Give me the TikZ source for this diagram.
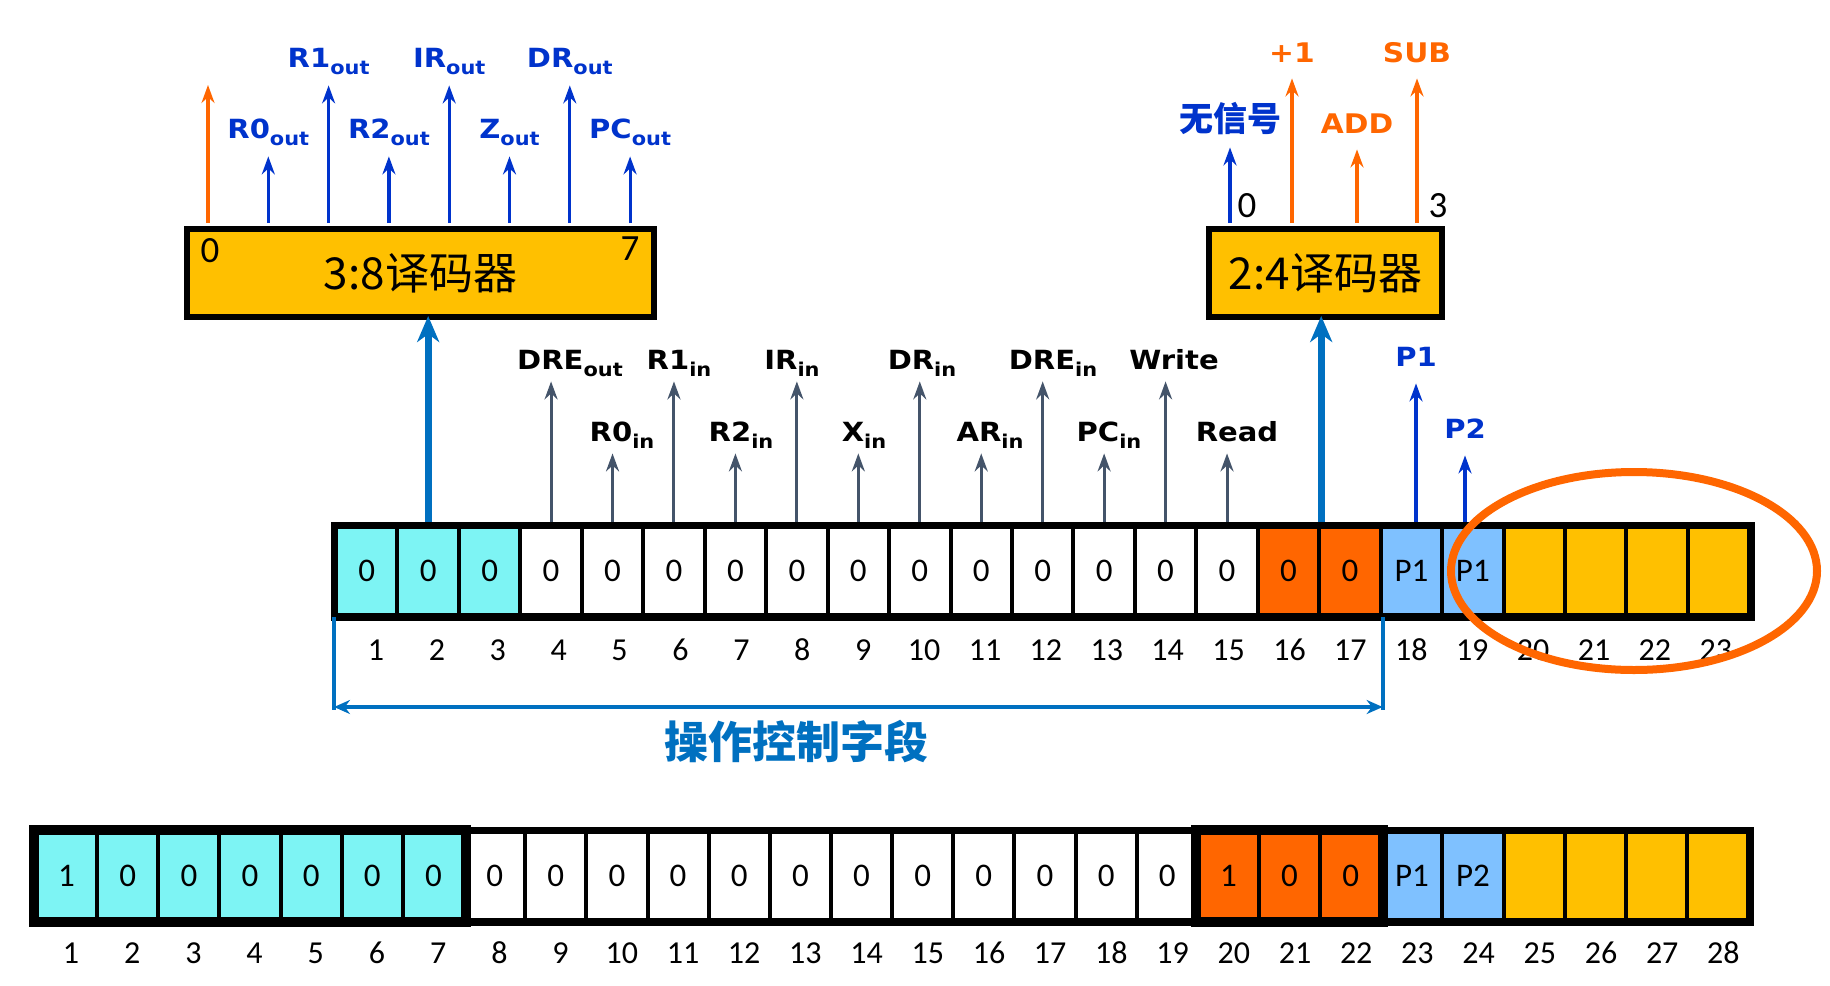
\documentclass[tikz,border=0pt]{standalone}
\usepackage{fontspec}
\setmainfont{Carlito}
\newfontfamily\cjk{Noto Sans CJK SC}
\newfontfamily\lblf{DejaVu Sans}[FakeStretch=1.1]
\usetikzlibrary{arrows.meta,calc,shapes.geometric}
\definecolor{ccyan}{RGB}{125,244,244}
\definecolor{corange}{RGB}{255,102,0}
\definecolor{clblue}{RGB}{127,193,255}
\definecolor{cyellow}{RGB}{255,192,0}
\definecolor{cblue}{RGB}{0,51,204}
\definecolor{cdblue}{RGB}{0,112,192}
\definecolor{cgray}{RGB}{68,84,106}
\newcommand\lab[2]{#1\raisebox{-0.3em}{\fontsize{9.5pt}{10pt}\selectfont #2}}
\begin{document}
\begin{tikzpicture}[x=0.5pt,y=-0.5pt,
  cell/.style={draw=black, line width=2pt, minimum width=30.72pt, minimum height=44pt, inner sep=0pt, font=\fontsize{16.5pt}{17pt}\selectfont},
  bcell/.style={cell, minimum width=30.57pt},
  num/.style={inner sep=0pt, font=\fontsize{16pt}{17pt}\selectfont},
  dnum/.style={inner sep=0pt, font=\fontsize{18.5pt}{19pt}\selectfont},
  dec/.style={draw=black, line width=3pt, fill=cyellow, inner sep=0pt, minimum height=44pt, font=\cjk\fontsize{22pt}{23pt}\selectfont},
  glbl/.style={anchor=base, inner sep=0pt, text depth=6pt, text=black, font=\lblf\bfseries\fontsize{13.2pt}{14pt}\selectfont},
  dlbl/.style={glbl, text=cblue, text depth=9pt},
  plbl/.style={glbl, text=cblue, text depth=8.5pt},
  olbl/.style={glbl, text=corange, text depth=8pt, font=\lblf\bfseries\fontsize{13.5pt}{14pt}\selectfont},
  clbl/.style={anchor=base, inner sep=0pt, text depth=8pt, text=cblue, font=\cjk\bfseries\fontsize{17pt}{18pt}\selectfont},
  tip/.style={-{Stealth[length=9pt,width=6.5pt,inset=3pt]}},
  garrow/.style={draw=cgray, line width=1.5pt, tip, shorten <=1.75pt},
  barrow/.style={draw=cblue, line width=1.6pt, tip, shorten <=1.5pt},
  oarrow/.style={draw=corange, line width=1.6pt, tip, shorten <=1.5pt},
  tarrow/.style={draw=cdblue, line width=3.5pt, -{Stealth[length=13pt,width=11pt,inset=4pt]}, shorten <=1.75pt, shorten >=-2pt},
  brk/.style={draw=cdblue, line width=2pt}
]
\useasboundingbox (0,0) rectangle (1830,985);

% ---------- top register ----------
\foreach \i/\f/\t in {1/ccyan/0,2/ccyan/0,3/ccyan/0,4/white/0,5/white/0,6/white/0,7/white/0,8/white/0,9/white/0,10/white/0,11/white/0,12/white/0,13/white/0,14/white/0,15/white/0,16/corange/0,17/corange/0,18/clblue/P1,19/clblue/P1,20/cyellow/,21/cyellow/,22/cyellow/,23/cyellow/}{
  \pgfmathsetmacro\xx{336+(\i-0.5)*61.45}
  \pgfmathsetmacro\nx{376+(\i-1)*60.9}
  \node[cell, fill=\f] (t\i) at (\xx,571) {\t};
  \node[num] (tn\i) at (\nx,650) {\i};
}
\draw[line width=3.5pt] (t1.north west) rectangle (t23.south east);

% ---------- bottom register ----------
\foreach \i/\f/\t in {1/ccyan/1,2/ccyan/0,3/ccyan/0,4/ccyan/0,5/ccyan/0,6/ccyan/0,7/ccyan/0,8/white/0,9/white/0,10/white/0,11/white/0,12/white/0,13/white/0,14/white/0,15/white/0,16/white/0,17/white/0,18/white/0,19/white/0,20/corange/1,21/corange/0,22/corange/0,23/clblue/P1,24/clblue/P2,25/cyellow/,26/cyellow/,27/cyellow/,28/cyellow/}{
  \pgfmathsetmacro\xx{36+(\i-0.5)*61.15}
  \pgfmathsetmacro\nx{71+(\i-1)*61.2}
  \node[bcell, fill=\f] (b\i) at (\xx,876) {\t};
  \node[num] (bn\i) at (\nx,953) {\i};
}
\draw[line width=3.5pt] (b1.north west) rectangle (b28.south east);
\draw[line width=5pt] (b1.north west) rectangle (b7.south east);
\draw[line width=5pt] (b20.north west) rectangle (b22.south east);

% ---------- decoders ----------
\node[dec, minimum width=233.5pt] (d38) at (420.5,273) {3:8译码器};
\node[dec, minimum width=116.5pt] (d24) at (1325.5,273) {2:4译码器};
\node[dnum] (d38a) at (210,251) {0};
\node[dnum] (d38b) at (630,249) {7};
\node[dnum] (d24a) at (1247,206) {0};
\node[dnum] (d24b) at (1438,206) {3};

% 3:8 outputs
\coordinate (o0) at (208,85);
\draw[oarrow] (o0 |- d38.north) -- (o0);
\node[dlbl] (lR0o) at (268.3,138) {\lab{R0}{out}};
\node[dlbl] (lR1o) at (328.6,67) {\lab{R1}{out}};
\node[dlbl] (lR2o) at (388.9,138) {\lab{R2}{out}};
\node[dlbl] (lIRo) at (449.2,67) {\lab{IR}{out}};
\node[dlbl] (lZo) at (509.5,138) {\lab{Z}{out}};
\node[dlbl] (lDRo) at (569.8,67) {\lab{DR}{out}};
\node[dlbl] (lPCo) at (630.1,138) {\lab{PC}{out}};
\foreach \n in {lR0o,lR1o,lR2o,lIRo,lZo,lDRo,lPCo}
  \draw[barrow] (\n.south |- d38.north) -- (\n.south);

% 2:4 outputs
\node[clbl] (lnone) at (1230,131) {无信号};
\node[olbl] (lp1) at (1292,62) {+1};
\node[olbl] (ladd) at (1357,133) {ADD};
\node[olbl] (lsub) at (1417,62) {SUB};
\draw[barrow] (lnone.south |- d24.north) -- (lnone.south);
\foreach \n in {lp1,ladd,lsub}
  \draw[oarrow] (\n.south |- d24.north) -- (\n.south);

% thick arrows into decoders
\draw[tarrow] (t2.north) -- (t2.north |- d38.south);
\draw[tarrow] (t16.north east) -- (t16.north east |- d24.south);

% gray control signals
\node[glbl] (l4) at (570,369) {\lab{DRE}{out}};
\node[glbl] (l6) at (679,369) {\lab{R1}{in}};
\node[glbl] (l8) at (792,369) {\lab{IR}{in}};
\node[glbl] (l10) at (922,369) {\lab{DR}{in}};
\node[glbl] (l12) at (1053,369) {\lab{DRE}{in}};
\node[glbl] (l14) at (1174,369) {Write};
\node[glbl] (l5) at (622,441) {\lab{R0}{in}};
\node[glbl] (l7) at (741,441) {\lab{R2}{in}};
\node[glbl] (l9) at (864,441) {\lab{X}{in}};
\node[glbl] (l11) at (990,441) {\lab{AR}{in}};
\node[glbl] (l13) at (1109,441) {\lab{PC}{in}};
\node[glbl] (l15) at (1237,441) {Read};
\foreach \i in {4,...,15}
  \draw[garrow] (t\i.north) -- (t\i.north |- l\i.south);

% P1 / P2
\node[plbl] (lP1) at (1416,366) {P1};
\node[plbl] (lP2) at (1465,438) {P2};
\draw[barrow, shorten <=1.75pt] (lP1.south |- t18.north) -- (lP1.south);
\draw[barrow, shorten <=1.75pt] (lP2.south |- t19.north) -- (lP2.south);

% bracket
\coordinate (brL) at ($(t1.south west)+(0,90)$);
\coordinate (brR) at (t17.south east |- brL);
\draw[brk] (t1.south west) -- ($(brL)+(0,3)$);
\draw[brk] (t17.south east) -- ($(brR)+(0,3)$);
\draw[brk, {Stealth[length=8pt,width=7pt]}-{Stealth[length=8pt,width=7pt]}] (brL) -- (brR);
\node[text=cdblue, inner sep=0pt, font=\cjk\bfseries\fontsize{22pt}{24pt}\selectfont] (field) at (796,742) {操作控制字段};

% highlight ellipse
\node[ellipse, draw=corange, line width=4pt, minimum width=183pt, minimum height=99pt, inner sep=0pt] (hl) at (1634,571) {};
\end{tikzpicture}
\end{document}
